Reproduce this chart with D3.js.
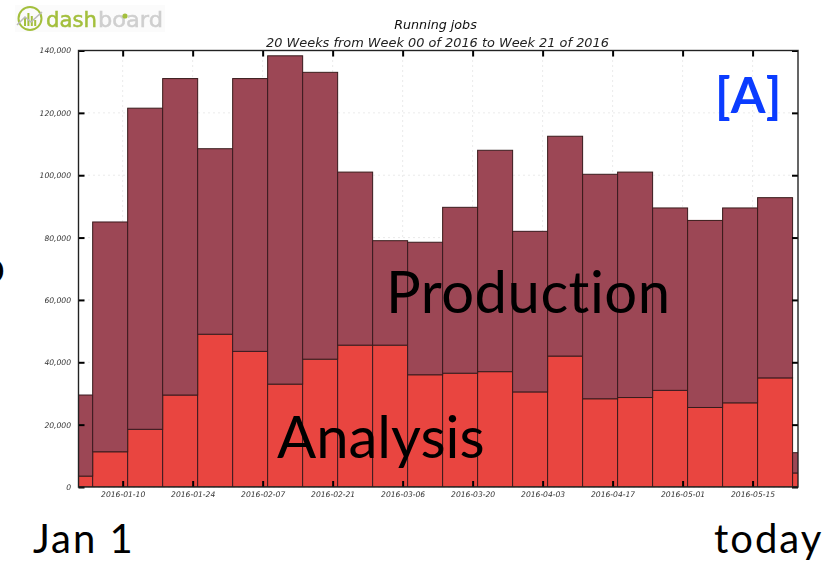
<!DOCTYPE html>
<html>
<head>
<meta charset="utf-8">
<script src="https://cdn.jsdelivr.net/npm/d3@7"></script>
<style>
html, body { margin: 0; padding: 0; background: #fff; }
svg { display: block; }
.plot-text { font-family: "DejaVu Sans"; font-style: italic; }
.slide-text { font-family: Lato, "Open Sans"; fill: #000; font-variant-ligatures: none; }
</style>
</head>
<body>
<div id="chart"></div>
<script>
// week start of every bar, the first and the last one are cut by the axes
const weeks = ["2015-12-28", "2016-01-04", "2016-01-11", "2016-01-18", "2016-01-25", "2016-02-01", "2016-02-08", "2016-02-15",
    "2016-02-22", "2016-02-29", "2016-03-07", "2016-03-14", "2016-03-21", "2016-03-28", "2016-04-04", "2016-04-11",
    "2016-04-18", "2016-04-25", "2016-05-02", "2016-05-09", "2016-05-16", "2016-05-23"]
const analysis = [3500, 11300, 18500, 29500, 49000, 43500, 33000, 41000, 45500, 45500, 36000,
    36500, 37000, 30500, 42000, 28300, 28700, 31000, 25500, 27000, 35000, 4500]
const production = [26000, 73700, 103000, 101500, 59500, 87500, 105300, 92000, 55500, 33500, 42500,
    53200, 71000, 51500, 70500, 72000, 72300, 58500, 60000, 62500, 57800, 6500]
const xTicks = ["2016-01-10", "2016-01-24", "2016-02-07", "2016-02-21", "2016-03-06", "2016-03-20",
    "2016-04-03", "2016-04-17", "2016-05-01", "2016-05-15"]
const yTicks = [0, 20000, 40000, 60000, 80000, 100000, 120000, 140000]
const xStart = "2016-01-01T04:00"
const xEnd = "2016-05-24T02:00"

const width = 828
const height = 563
const marginTop = 50.5
const marginRight = 30
const marginBottom = 76
const marginLeft = 78.5

const parseDate = d3.utcParse("%Y-%m-%d")
const parseStart = d3.utcParse("%Y-%m-%dT%H:%M")
const DAY = 864e5

const xScale = d3.scaleUtc([parseStart(xStart), parseStart(xEnd)], [marginLeft, width - marginRight])
const yScale = d3.scaleLinear([0, 140000], [height - marginBottom, marginTop])

const svg = d3.select("#chart").append("svg")
    .attr("width", width)
    .attr("height", height)
    .attr("viewBox", [0, 0, width, height])

const blur = svg.append("defs").append("filter").attr("id", "soft")
blur.append("feGaussianBlur").attr("stdDeviation", 0.45)

const plot = svg.append("g").attr("filter", "url(#soft)")

// dotted grid
plot.append("g").selectAll("line").data(xTicks).join("line")
    .attr("x1", d => xScale(parseDate(d))).attr("x2", d => xScale(parseDate(d)))
    .attr("y1", marginTop).attr("y2", height - marginBottom)
    .attr("stroke", "#ccc").attr("stroke-dasharray", "1,4").attr("stroke-width", 0.8)
plot.append("g").selectAll("line").data(yTicks).join("line")
    .attr("x1", marginLeft).attr("x2", width - marginRight)
    .attr("y1", d => yScale(d)).attr("y2", d => yScale(d))
    .attr("stroke", "#ccc").attr("stroke-dasharray", "1,4").attr("stroke-width", 0.8)

// stacked weekly bars, clipped to the axes
const clip = svg.select("defs").append("clipPath").attr("id", "plot-area")
clip.append("rect").attr("x", marginLeft).attr("y", marginTop)
    .attr("width", width - marginRight - marginLeft).attr("height", height - marginBottom - marginTop)

const bars = plot.append("g").attr("clip-path", "url(#plot-area)")
const barX = d => xScale(parseDate(d))
const barW = d => xScale(new Date(+parseDate(d) + 7 * DAY)) - xScale(parseDate(d))

bars.selectAll(".analysis").data(weeks).join("rect")
    .attr("class", "analysis")
    .attr("x", barX).attr("width", barW)
    .attr("y", (d, i) => yScale(analysis[i]))
    .attr("height", (d, i) => yScale(0) - yScale(analysis[i]))
    .attr("fill", "#e9453f").attr("stroke", "#3a1c1e").attr("stroke-width", 1)
bars.selectAll(".production").data(weeks).join("rect")
    .attr("class", "production")
    .attr("x", barX).attr("width", barW)
    .attr("y", (d, i) => yScale(analysis[i] + production[i]))
    .attr("height", (d, i) => yScale(analysis[i]) - yScale(analysis[i] + production[i]))
    .attr("fill", "#9c4654").attr("stroke", "#3a1c1e").attr("stroke-width", 1)

// axes
const tickDates = xTicks.map(d => parseDate(d))
const yAxisLeft = d3.axisLeft(yScale).tickValues(yTicks).tickSize(-6).tickPadding(7.5).tickFormat(d3.format(","))
const yAxisRight = d3.axisRight(yScale).tickValues(yTicks).tickSize(-6).tickFormat("")
const xAxisBottom = d3.axisBottom(xScale).tickValues(tickDates).tickSize(-6).tickPadding(4.5).tickFormat(d3.utcFormat("%Y-%m-%d"))
const xAxisTop = d3.axisTop(xScale).tickValues(tickDates).tickSize(-6).tickFormat("")

const styleAxis = g => {
    g.select(".domain").remove()
    g.selectAll(".tick line").attr("stroke", "#000").attr("stroke-width", 2)
    g.selectAll(".tick text").attr("class", "plot-text").attr("font-size", 7.6).attr("fill", "#333")
}

plot.append("g").attr("transform", `translate(${marginLeft},0)`).call(yAxisLeft).call(styleAxis)
plot.append("g").attr("transform", `translate(${width - marginRight},0)`).call(yAxisRight).call(styleAxis)
plot.append("g").attr("transform", `translate(0,${height - marginBottom})`).call(xAxisBottom).call(styleAxis)
plot.append("g").attr("transform", `translate(0,${marginTop})`).call(xAxisTop).call(styleAxis)

plot.append("rect")
    .attr("x", marginLeft).attr("y", marginTop)
    .attr("width", width - marginRight - marginLeft).attr("height", height - marginBottom - marginTop)
    .attr("fill", "none").attr("stroke", "#222").attr("stroke-width", 1.4)

plot.append("text").attr("class", "plot-text")
    .attr("x", 435.5).attr("y", 29).attr("text-anchor", "middle")
    .attr("font-size", 12.7).attr("fill", "#111")
    .text("Running jobs")
plot.append("text").attr("class", "plot-text")
    .attr("x", 437.5).attr("y", 47).attr("text-anchor", "middle")
    .attr("font-size", 12.9).attr("fill", "#222")
    .text("20 Weeks from Week 00 of 2016 to Week 21 of 2016")

// dashboard logo
const logo = svg.append("g").attr("filter", "url(#soft)")
logo.append("rect").attr("x", 15).attr("y", 5).attr("width", 150).attr("height", 27).attr("fill", "#fbfbfb")
logo.append("circle").attr("cx", 30).attr("cy", 18.5).attr("r", 11.5)
    .attr("fill", "none").attr("stroke", "#a3bf3c").attr("stroke-width", 2)
logo.append("g").selectAll("rect").data([8, 13, 10, 6]).join("rect")
    .attr("x", (d, i) => 24 + i * 3.4).attr("y", d => 26 - d)
    .attr("width", 2).attr("height", d => d).attr("fill", "#a3bf3c")
logo.append("path").attr("d", "M17 25L25 17L31 22L42 12")
    .attr("fill", "none").attr("stroke", "#bbb").attr("stroke-width", 1.6)
logo.append("text").attr("x", 46).attr("y", 27)
    .attr("font-family", "DejaVu Sans").attr("font-size", 21).attr("fill", "#a3bf3c").attr("stroke", "#a3bf3c").attr("stroke-width", 0.5)
    .attr("textLength", 51).attr("lengthAdjust", "spacingAndGlyphs").text("dash")
logo.append("text").attr("x", 98).attr("y", 27)
    .attr("font-family", "DejaVu Sans").attr("font-size", 21).attr("fill", "#cfcfcf").attr("stroke", "#cfcfcf").attr("stroke-width", 0.5)
    .attr("textLength", 65).attr("lengthAdjust", "spacingAndGlyphs").text("board")
logo.append("circle").attr("cx", 125).attr("cy", 16).attr("r", 2.6).attr("fill", "#a3bf3c")

// slide labels on top of the chart
const slideLabels = svg.append("g")
slideLabels.append("text").attr("class", "slide-text").attr("x", 386).attr("y", 313).attr("font-size", 58)
    .attr("letter-spacing", 0.5).text("Production")
slideLabels.append("text").attr("class", "slide-text").attr("x", 277).attr("y", 458).attr("font-size", 58).text("Analysis")
slideLabels.append("text").attr("class", "slide-text").attr("x", 33).attr("y", 553).attr("font-size", 40)
    .attr("letter-spacing", 2).text("Jan 1")
slideLabels.append("text").attr("class", "slide-text").attr("x", 714).attr("y", 553).attr("font-size", 40)
    .attr("letter-spacing", 2).text("today")
slideLabels.append("text").attr("x", 715).attr("y", 113).attr("font-family", "Lato").attr("font-weight", 700)
    .attr("font-size", 50).attr("letter-spacing", 1).attr("fill", "#0b3cff").text("[A]")
slideLabels.append("text").attr("class", "slide-text").attr("x", -21).attr("y", 283).attr("font-size", 46).text("o")
</script>
</body>
</html>
